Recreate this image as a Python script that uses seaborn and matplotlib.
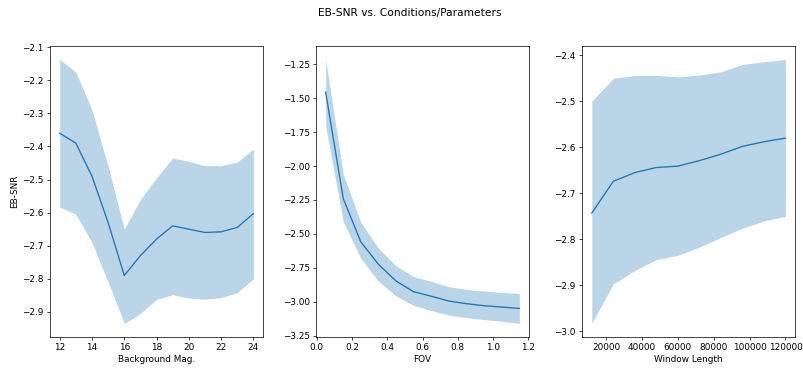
import numpy as np
import pandas as pd
import matplotlib
matplotlib.use("Agg")
import matplotlib.pyplot as plt
import seaborn as sns

# Panel 1: Background Mag.
bg_mag = [12, 13, 14, 15, 16, 17, 18, 19, 20, 21, 22, 23, 24]
bg_mean = [-2.36, -2.39, -2.49, -2.63, -2.79, -2.73, -2.68, -2.64, -2.65, -2.66, -2.658, -2.645, -2.603]
bg_upper = [-2.137, -2.175, -2.29, -2.46, -2.65, -2.56, -2.495, -2.435, -2.445, -2.458, -2.458, -2.447, -2.408]
bg_lower = [-2.583, -2.605, -2.69, -2.81, -2.935, -2.905, -2.862, -2.848, -2.858, -2.862, -2.857, -2.842, -2.80]

# Panel 2: FOV
fov = [0.05, 0.15, 0.25, 0.35, 0.45, 0.55, 0.65, 0.75, 0.85, 0.95, 1.05, 1.15]
fov_mean = [-1.455, -2.24, -2.56, -2.725, -2.848, -2.927, -2.96, -2.996, -3.015, -3.03, -3.04, -3.05]
fov_upper = [-1.213, -2.06, -2.417, -2.606, -2.737, -2.816, -2.85, -2.89, -2.91, -2.922, -2.932, -2.94]
fov_lower = [-1.706, -2.41, -2.683, -2.848, -2.959, -3.028, -3.065, -3.10, -3.118, -3.132, -3.145, -3.161]

# Panel 3: Window Length
win = [12000, 24000, 36000, 48000, 60000, 72000, 84000, 96000, 108000, 120000]
win_mean = [-2.743, -2.674, -2.655, -2.644, -2.641, -2.629, -2.615, -2.598, -2.588, -2.58]
win_upper = [-2.5, -2.45, -2.444, -2.444, -2.447, -2.443, -2.436, -2.42, -2.414, -2.409]
win_lower = [-2.983, -2.897, -2.868, -2.844, -2.835, -2.817, -2.796, -2.776, -2.76, -2.75]

s = 0.64
plt.rcParams.update({
    'font.family': ['DejaVu Sans'],
    'font.size': 10 * s,
    'axes.linewidth': 0.8 * s,
    'xtick.major.size': 3.5 * s,
    'ytick.major.size': 3.5 * s,
    'xtick.major.width': 0.8 * s,
    'ytick.major.width': 0.8 * s,
    'xtick.major.pad': 3.5 * s,
    'ytick.major.pad': 3.5 * s,
    'axes.labelpad': 4.0 * s,
})

fig = plt.figure(figsize=(8.04, 3.71), dpi=100)
lefts = [0.0622, 0.393, 0.724]
axes = [fig.add_axes([l, 0.0925, 0.265, 0.783]) for l in lefts]

panels = [
    (bg_mag, bg_mean, bg_lower, bg_upper, "Background Mag."),
    (fov, fov_mean, fov_lower, fov_upper, "FOV"),
    (win, win_mean, win_lower, win_upper, "Window Length"),
]
color = "#1f77b4"
for ax, (x, m, lo, hi, label) in zip(axes, panels):
    df = pd.DataFrame({"x": x, "y": m})
    sns.lineplot(data=df, x="x", y="y", ax=ax, color=color, linewidth=1.5 * s)
    ax.fill_between(x, lo, hi, color=color, alpha=0.3, linewidth=0)
    ax.set_xlabel(label)
    ax.set_ylabel("")
axes[0].set_ylabel("EB-SNR")
axes[1].set_xticks([0.0, 0.2, 0.4, 0.6, 0.8, 1.0, 1.2])
axes[2].set_xticks([20000, 40000, 60000, 80000, 100000, 120000])
axes[2].ticklabel_format(style='plain', axis='x')

fig.suptitle("EB-SNR vs. Conditions/Parameters", x=0.51, y=0.978, fontsize=12 * s)
fig.savefig("out.png", dpi=100)
